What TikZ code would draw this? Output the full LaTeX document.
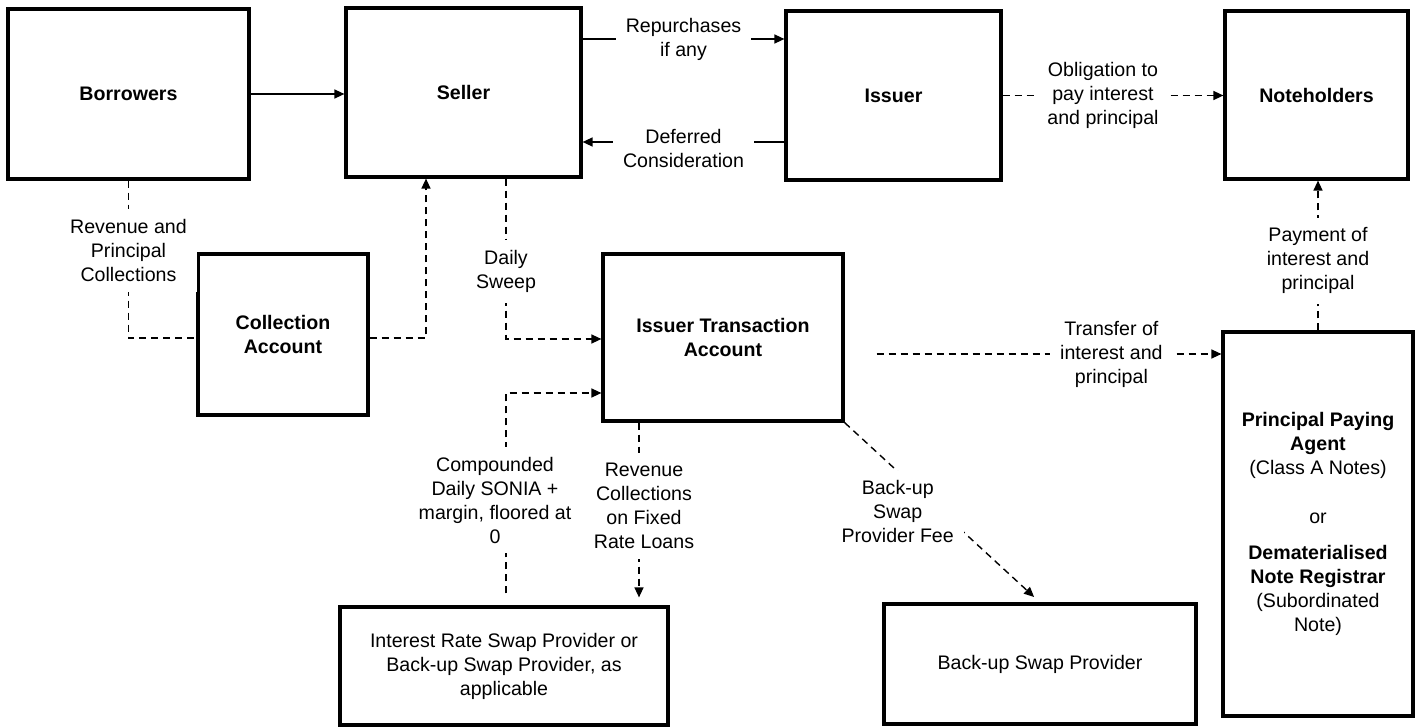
\documentclass[tikz,border=0pt]{standalone}
\usepackage{fontspec}
\setmainfont{Liberation Sans}
\usetikzlibrary{positioning, arrows.meta, calc}

\begin{document}
\begin{tikzpicture}[
    x=0.5pt, y=-0.5pt,
    >={Triangle[length=5pt,width=4.5pt]},
    every node/.style={font=\fontsize{9.8}{12}\selectfont},
    box/.style={draw, line width=1.6pt, align=center, font=\fontsize{9.8}{12}\selectfont\bfseries},
    plainbox/.style={box, font=\fontsize{9.8}{12}\selectfont},
    flowlabel/.style={fill=white, align=center, inner sep=5pt},
    arrow/.style={->, line width=0.7pt},
    darrow/.style={arrow, dash pattern=on 3.5pt off 2.5pt},
    dline/.style={line width=0.7pt, dash pattern=on 3.5pt off 2.5pt},
]
\useasboundingbox (0,0) rectangle (1415,727);

% --- Top row ---
\node[box, minimum width=120.5pt, minimum height=85pt] (borrowers) at (128.5,94) {Borrowers};
\node[box, minimum width=117.5pt, minimum height=84.5pt] (seller) at (463.5,92.5) {Seller};
\node[box, minimum width=107.5pt, minimum height=84.5pt] (issuer) at (893.5,95.5) {Issuer};
\node[box, minimum width=91.5pt, minimum height=84pt] (noteholders) at (1316.5,95) {Noteholders};

% --- Accounts ---
\node[box, minimum width=85pt, minimum height=80.5pt] (collection) at (283,334.5) {Collection\\Account};
\node[box, minimum width=120pt, minimum height=83.5pt] (ita) at (723,337.5) {Issuer Transaction\\Account};

% --- Bottom row ---
\node[plainbox, minimum width=164pt, minimum height=59pt] (irs) at (504,666) {Interest Rate Swap Provider or\\Back-up Swap Provider, as\\applicable};
\node[plainbox, minimum width=156pt, minimum height=60pt] (bsp) at (1040,664) {Back-up Swap Provider};
\node[box, minimum width=95pt, minimum height=192pt] (ppa) at (1318,524) {Principal Paying\\Agent\\\textnormal{(Class A Notes)}\\[12.5pt]\textnormal{or}\\[6pt]Dematerialised\\Note Registrar\\\textnormal{(Subordinated}\\\textnormal{Note)}};

% Top flows
\draw[arrow] (borrowers.east) -- (borrowers.east -| seller.west);
\draw[arrow] ([yshift=26.75pt]seller.east) -- node[flowlabel]{Repurchases\\if any} ([yshift=26.75pt]seller.east -| issuer.west);
\draw[arrow] ([yshift=-24.75pt]seller.east -| issuer.west) -- node[flowlabel, yshift=-3pt]{Deferred\\Consideration} ([yshift=-24.75pt]seller.east);
\draw[darrow] (issuer.east) -- node[flowlabel, xshift=-5pt]{Obligation to\\pay interest\\and principal} (issuer.east -| noteholders.west);

% Collections
\draw[dline] (borrowers.south) |- node[flowlabel, pos=0.222]{Revenue and\\Principal\\Collections} ([yshift=-1.75pt]collection.west);
\draw[darrow] ([yshift=-1.75pt]collection.east) -| ([xshift=-18.75pt]seller.south);
\draw[darrow] ([xshift=21.25pt]seller.south) |- node[flowlabel, pos=0.29]{Daily\\Sweep} ([yshift=-0.75pt]ita.west);

% Swap flows
\draw[darrow, shorten <=6pt] ([xshift=1pt]irs.north) |- node[flowlabel, pos=0.248, xshift=-5.5pt]{Compounded\\Daily SONIA +\\margin, floored at\\0} ([yshift=-27.75pt]ita.west);
\draw[darrow, shorten >=4pt] ([xshift=-42pt]ita.south) -- node[flowlabel, pos=0.457, xshift=2.5pt]{Revenue\\Collections\\on Fixed\\Rate Loans} ([xshift=-42pt]ita.south |- irs.north);
\draw[darrow, shorten >=4pt] (ita.south east) -- node[flowlabel, pos=0.497, xshift=-22pt]{Back-up\\Swap\\Provider Fee} (bsp.north);

% Payments to noteholders
\draw[darrow, shorten <=16pt] ([yshift=-8.25pt]ita.east) -- node[flowlabel, pos=0.708]{Transfer of\\interest and\\principal} ([yshift=-8.25pt]ita.east -| ppa.west);
\draw[darrow] (ppa.north) -- node[flowlabel, pos=0.464]{Payment of\\interest and\\principal} (ppa.north |- noteholders.south);

\end{tikzpicture}
\end{document}
